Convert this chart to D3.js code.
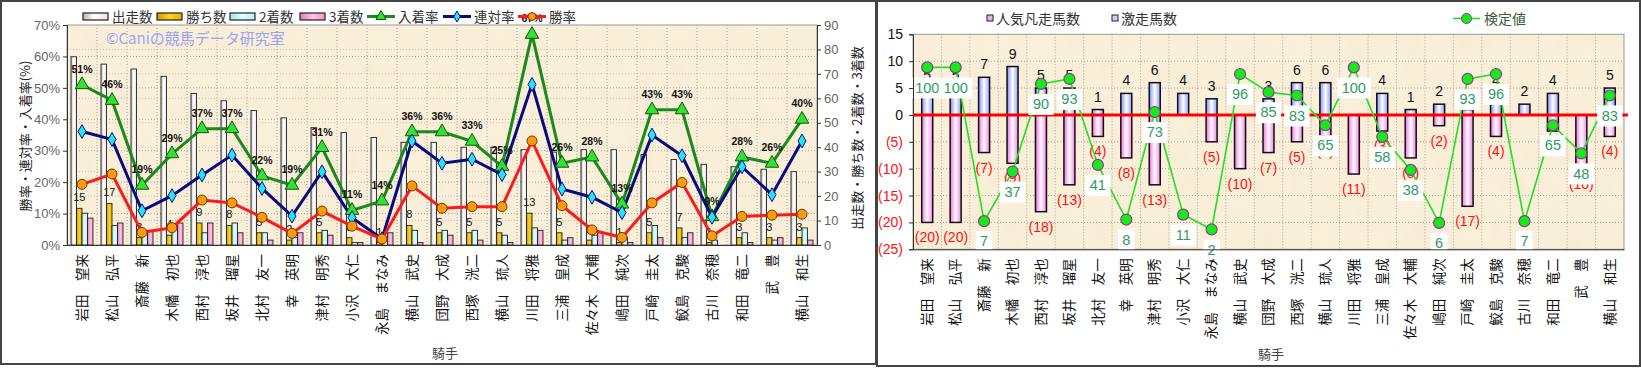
<!DOCTYPE html>
<html>
<head>
<meta charset="utf-8">
<script src="https://cdn.jsdelivr.net/npm/d3@7"></script>
<style>
  body { margin: 0; background: #fff; }
  text { font-family: "Noto Sans CJK JP", "Liberation Sans", sans-serif; }
  .num { font-family: "Liberation Sans", Arial, sans-serif; }
</style>
</head>
<body>
<div id="viz"></div>
<script>
// ---- data ----
const jockeys = ["岩田　望来","松山　弘平","斎藤　新","木幡　初也","西村　淳也","坂井　瑠星","北村　友一","幸　英明","津村　明秀","小沢　大仁","永島　まなみ","横山　武史","団野　大成","西塚　洸二","横山　琉人","川田　将雅","三浦　皇成","佐々木　大輔","嶋田　純次","戸崎　圭太","鮫島　克駿","古川　奈穂","和田　竜二","武　豊","横山　和生"]

const runs    = [77,74,72,69,62,59,55,52,48,46,44,42,42,40,40,39,38,39,39,37,35,33,32,31,30]
const wins    = [15,17,3,4,9,8,5,2,5,3,1,8,5,5,5,13,5,2,1,5,7,1,3,3,3]
const seconds = [13,8,5,7,5,9,5,3,6,1,0,6,6,6,4,7,2,4,3,8,3,2,5,2,7]
const thirds  = [11,9,6,9,9,5,2,5,4,1,5,1,4,2,1,6,3,5,1,3,5,0,1,3,2]

const winRate    = [19.3,22.6,4.0,5.5,14.3,13.4,8.8,3.7,10.8,6.0,1.9,18.8,11.7,12.2,12.2,33.1,12.5,4.8,2.4,13.4,19.9,2.9,9.1,9.5,9.8]
const rentaiRate = [36.1,33.6,10.9,15.7,22.3,28.6,18.0,9.2,23.3,8.7,2.0,33.1,26.0,27.3,22.4,51.1,17.8,15.2,10.3,35.0,28.4,8.8,24.9,16.0,33.1]
const placeRate  = [51,46,19,29,37,37,22,19,31,11,14,36,36,33,25,67,26,28,13,43,43,9,28,26,40]

const pctTicks = [0,10,20,30,40,50,60,70]
const cntTicks = [0,10,20,30,40,50,60,70,80,90]

// right chart
const gekisou = [5,5,7,9,5,5,1,4,6,4,3,0,3,6,6,0,4,1,2,1,4,2,4,0,5]
const bonsou  = [20,20,7,9,18,13,4,8,13,0,5,10,7,5,4,11,3,8,2,17,4,0,3,10,4]
const kentei  = [100,100,7,37,90,93,41,8,73,11,2,96,85,83,65,100,58,38,6,93,96,7,65,48,83]
const diffTicks = [15,10,5,0,-5,-10,-15,-20,-25]

const width = 1641
const height = 368

const svg = d3.select("#viz").append("svg")
    .attr("width", width)
    .attr("height", height)

const defs = svg.append("defs")

function hGrad(id, stops) {
    const g = defs.append("linearGradient").attr("id", id)
        .attr("x1", "0%").attr("x2", "100%").attr("y1", "0%").attr("y2", "0%")
    stops.forEach(s => g.append("stop").attr("offset", s[0]).attr("stop-color", s[1]))
}
hGrad("gRuns", [["0%", "#b8b8b8"], ["45%", "#ffffff"], ["100%", "#e4e4e4"]])
hGrad("gWins", [["0%", "#c89a00"], ["50%", "#ffd21a"], ["100%", "#e0b000"]])
hGrad("g2nd", [["0%", "#9ee6ea"], ["50%", "#e2ffff"], ["100%", "#b6f0f2"]])
hGrad("g3rd", [["0%", "#e07ab8"], ["50%", "#ffc4e6"], ["100%", "#ee96cc"]])
hGrad("gBlue", [["0%", "#7f8cff"], ["50%", "#ffffff"], ["100%", "#8f9cff"]])
hGrad("gPink", [["0%", "#f26ee6"], ["50%", "#ffffff"], ["100%", "#f47ee8"]])

// paper texture
const paper = defs.append("filter").attr("id", "paper")
    .attr("x", 0).attr("y", 0).attr("width", "100%").attr("height", "100%")
paper.append("feTurbulence").attr("type", "fractalNoise")
    .attr("baseFrequency", "0.035").attr("numOctaves", 3).attr("seed", 4)
paper.append("feColorMatrix").attr("type", "matrix")
    .attr("values", "0 0 0 0 0.86  0 0 0 0 0.74  0 0 0 0 0.55  1.3 0 0 0 -0.5")

// ---- frames ----
svg.append("rect").attr("x", 1).attr("y", 1).attr("width", 875).attr("height", 363)
    .attr("fill", "#fff").attr("stroke", "#444").attr("stroke-width", 2)
svg.append("rect").attr("x", 877).attr("y", 1).attr("width", 763).attr("height", 365)
    .attr("fill", "#fff").attr("stroke", "#444").attr("stroke-width", 2)

function plotBg(x0, y0, x1, y1) {
    svg.append("rect").attr("x", x0).attr("y", y0).attr("width", x1 - x0).attr("height", y1 - y0)
        .attr("fill", "#faf0da")
    svg.append("rect").attr("x", x0).attr("y", y0).attr("width", x1 - x0).attr("height", y1 - y0)
        .attr("filter", "url(#paper)").attr("opacity", 0.45)
}

// ========================================
// LEFT CHART
const L = { x0: 67, x1: 817, y0: 25, y1: 245 }
const x = d3.scaleBand().domain(jockeys).range([L.x0, L.x1])
const cx = j => x(j) + x.bandwidth() / 2
const yPct = d3.scaleLinear().domain([0, 70]).range([L.y1, L.y0])
const yCnt = d3.scaleLinear().domain([0, 90]).range([L.y1, L.y0])
const sub = d3.scaleBand().domain(["runs", "wins", "seconds", "thirds"]).range([-11, 11])

plotBg(L.x0, L.y0, L.x1, L.y1)

const gridL = svg.append("g").attr("stroke", "#a8a39a").attr("stroke-dasharray", "1,2").attr("stroke-width", 1)
pctTicks.slice(1, -1).forEach(t => gridL.append("line")
    .attr("x1", L.x0).attr("x2", L.x1).attr("y1", yPct(t)).attr("y2", yPct(t)))
cntTicks.slice(1, -1).forEach(t => gridL.append("line")
    .attr("x1", L.x0).attr("x2", L.x1).attr("y1", yCnt(t)).attr("y2", yCnt(t)).attr("opacity", 0.6))
jockeys.slice(1).forEach(j => gridL.append("line")
    .attr("x1", x(j)).attr("x2", x(j)).attr("y1", L.y0).attr("y2", L.y1))

svg.append("rect").attr("x", L.x0).attr("y", L.y0).attr("width", L.x1 - L.x0).attr("height", L.y1 - L.y0)
    .attr("fill", "none").attr("stroke", "#999")

// watermark
svg.append("text").text("©Caniの競馬データ研究室")
    .attr("x", 106).attr("y", 44).attr("fill", "#9aa4f2").style("font-size", "15px")

// bars
const barSeries = [
    { key: "runs", vals: runs, fill: "url(#gRuns)" },
    { key: "wins", vals: wins, fill: "url(#gWins)" },
    { key: "seconds", vals: seconds, fill: "url(#g2nd)" },
    { key: "thirds", vals: thirds, fill: "url(#g3rd)" }
]
barSeries.forEach(s => {
    svg.append("g").selectAll("rect").data(jockeys).join("rect")
        .attr("x", (j) => cx(j) + sub(s.key))
        .attr("width", sub.bandwidth())
        .attr("y", (j, i) => yCnt(s.vals[i]))
        .attr("height", (j, i) => yCnt(0) - yCnt(s.vals[i]))
        .attr("fill", s.fill)
        .attr("stroke", "#222")
        .attr("stroke-width", 0.9)
})

// win count labels
svg.append("g").selectAll("text").data(jockeys).join("text")
    .attr("class", "num")
    .attr("x", j => cx(j) + sub("wins") + sub.bandwidth() / 2)
    .attr("y", (j, i) => yCnt(wins[i]) - 7)
    .attr("text-anchor", "middle")
    .style("font-size", "11px").attr("fill", "#111")
    .text((j, i) => wins[i])

// lines
function drawLine(vals, color) {
    const line = d3.line().x((d, i) => cx(jockeys[i])).y(d => yPct(d))
    svg.append("path").datum(vals).attr("d", line)
        .attr("fill", "none").attr("stroke", color).attr("stroke-width", 3)
}
drawLine(placeRate, "#1b8a1b")
drawLine(rentaiRate, "#0a0a80")
drawLine(winRate, "#ff1a1a")

const triangle = d3.symbol().type(d3.symbolTriangle).size(80)
const diamond = d3.symbol().type(d3.symbolDiamond).size(55)

svg.append("g").selectAll("path").data(placeRate).join("path")
    .attr("d", triangle)
    .attr("transform", (d, i) => `translate(${cx(jockeys[i])},${yPct(d)})`)
    .attr("fill", "#33e033").attr("stroke", "#0b5a0b").attr("stroke-width", 1)
svg.append("g").selectAll("path").data(rentaiRate).join("path")
    .attr("d", diamond)
    .attr("transform", (d, i) => `translate(${cx(jockeys[i])},${yPct(d)})`)
    .attr("fill", "#1ee8f5").attr("stroke", "#0a0a80").attr("stroke-width", 1)
svg.append("g").selectAll("circle").data(winRate).join("circle")
    .attr("cx", (d, i) => cx(jockeys[i])).attr("cy", d => yPct(d)).attr("r", 5)
    .attr("fill", "#ff9a10").attr("stroke", "#6a3a00").attr("stroke-width", 1)

// place rate labels
svg.append("g").selectAll("text").data(placeRate).join("text")
    .attr("class", "num")
    .attr("x", (d, i) => cx(jockeys[i]))
    .attr("y", d => yPct(d) - 12)
    .attr("text-anchor", "middle")
    .style("font-size", "10.5px").style("font-weight", "bold").attr("fill", "#111")
    .text(d => d + "%")

// axes
const axL = svg.append("g").attr("transform", `translate(${L.x0},0)`)
    .call(d3.axisLeft(yPct).tickValues(pctTicks).tickFormat(d => d + "%").tickSize(4))
axL.selectAll("text").attr("class", "num").style("font-size", "13px").attr("fill", "#666")
axL.selectAll("line, path").attr("stroke", "#333")

const axR = svg.append("g").attr("transform", `translate(${L.x1},0)`)
    .call(d3.axisRight(yCnt).tickValues(cntTicks).tickSize(4))
axR.selectAll("text").attr("class", "num").style("font-size", "13px").attr("fill", "#666")
axR.selectAll("line, path").attr("stroke", "#333")

function catAxis(scale, y0) {
    const ax = svg.append("g").attr("transform", `translate(0,${y0})`)
        .call(d3.axisBottom(scale).tickSize(0))
    ax.select(".domain").attr("stroke", "#333")
    ax.selectAll("text")
        .attr("x", -9).attr("y", 0).attr("dy", "0.35em")
        .attr("transform", "rotate(-90)")
        .style("text-anchor", "end")
        .style("font-size", "13.5px")
        .style("font-family", "'Noto Sans CJK JP', sans-serif")
        .attr("fill", "#111")
}
catAxis(x, L.y1)

svg.append("text").text("勝率・連対率・入着率(%)")
    .attr("transform", "translate(30,136) rotate(-90)")
    .attr("text-anchor", "middle").style("font-size", "13px").attr("fill", "#222")
svg.append("text").text("出走数・勝ち数・2着数・3着数")
    .attr("transform", "translate(862,138) rotate(-90)")
    .attr("text-anchor", "middle").style("font-size", "13px").attr("fill", "#222")
svg.append("text").text("騎手").attr("x", 445).attr("y", 358)
    .attr("text-anchor", "middle").style("font-size", "13px").attr("fill", "#444")

// legend
const legL = svg.append("g").style("font-size", "13.5px")
const boxItems = [
    { label: "出走数", fill: "url(#gRuns)", x: 83 },
    { label: "勝ち数", fill: "url(#gWins)", x: 157 },
    { label: "2着数", fill: "url(#g2nd)", x: 230 },
    { label: "3着数", fill: "url(#g3rd)", x: 300 }
]
boxItems.forEach(b => {
    legL.append("rect").attr("x", b.x).attr("y", 13).attr("width", 25).attr("height", 7)
        .attr("fill", b.fill).attr("stroke", "#222").attr("stroke-width", 1.2)
    legL.append("text").text(b.label).attr("x", b.x + 29).attr("y", 21.5).attr("fill", "#333")
})
const lineItems = [
    { label: "入着率", color: "#1b8a1b", x: 367, mark: "tri" },
    { label: "連対率", color: "#0a0a80", x: 443, mark: "dia" },
    { label: "勝率", color: "#ff1a1a", x: 518, mark: "cir" }
]
lineItems.forEach(b => {
    legL.append("line").attr("x1", b.x).attr("x2", b.x + 28).attr("y1", 16.5).attr("y2", 16.5)
        .attr("stroke", b.color).attr("stroke-width", 3)
    const mx = b.x + 14
    if (b.mark === "tri") legL.append("path").attr("d", d3.symbol().type(d3.symbolTriangle).size(45))
        .attr("transform", `translate(${mx},16.5)`).attr("fill", "#33e033").attr("stroke", "#0b5a0b")
    if (b.mark === "dia") legL.append("path").attr("d", d3.symbol().type(d3.symbolDiamond).size(35))
        .attr("transform", `translate(${mx},16.5)`).attr("fill", "#1ee8f5").attr("stroke", "#0a0a80")
    if (b.mark === "cir") legL.append("circle").attr("cx", mx).attr("cy", 16.5).attr("r", 4)
        .attr("fill", "#ff9a10").attr("stroke", "#6a3a00")
    legL.append("text").text(b.label).attr("x", b.x + 31).attr("y", 21.5).attr("fill", "#333")
})

// ========================================
// RIGHT CHART
const R = { x0: 913, x1: 1624, y0: 34.3, y1: 249.3 }
const x2 = d3.scaleBand().domain(jockeys).range([R.x0, R.x1])
const cx2 = j => x2(j) + x2.bandwidth() / 2
const yDiff = d3.scaleLinear().domain([-25, 15]).range([R.y1, R.y0])
const yKen = d3.scaleLinear().domain([-10, 120]).range([R.y1, R.y0])
const bw = 11

plotBg(R.x0, R.y0, R.x1, R.y1)
const gridR = svg.append("g").attr("stroke", "#a8a39a").attr("stroke-dasharray", "1,2")
diffTicks.slice(1, -1).forEach(t => gridR.append("line")
    .attr("x1", R.x0).attr("x2", R.x1).attr("y1", yDiff(t)).attr("y2", yDiff(t)))
jockeys.slice(1).forEach(j => gridR.append("line")
    .attr("x1", x2(j)).attr("x2", x2(j)).attr("y1", R.y0).attr("y2", R.y1))
svg.append("rect").attr("x", R.x0).attr("y", R.y0).attr("width", R.x1 - R.x0).attr("height", R.y1 - R.y0)
    .attr("fill", "none").attr("stroke", "#999")

// bars
svg.append("g").selectAll("rect").data(jockeys.filter((j, i) => gekisou[i] > 0)).join("rect")
    .attr("x", j => cx2(j) - bw / 2).attr("width", bw)
    .attr("y", j => yDiff(gekisou[jockeys.indexOf(j)]))
    .attr("height", j => yDiff(0) - yDiff(gekisou[jockeys.indexOf(j)]))
    .attr("fill", "url(#gBlue)").attr("stroke", "#111").attr("stroke-width", 1.5)
svg.append("g").selectAll("rect").data(jockeys.filter((j, i) => bonsou[i] > 0)).join("rect")
    .attr("x", j => cx2(j) - bw / 2).attr("width", bw)
    .attr("y", yDiff(0))
    .attr("height", j => yDiff(-bonsou[jockeys.indexOf(j)]) - yDiff(0))
    .attr("fill", "url(#gPink)").attr("stroke", "#111").attr("stroke-width", 1.5)

// zero line
svg.append("line").attr("x1", R.x0).attr("x2", R.x1 + 4).attr("y1", yDiff(0)).attr("y2", yDiff(0))
    .attr("stroke", "#ff0000").attr("stroke-width", 3)

// bar labels
svg.append("g").selectAll("text").data(jockeys.filter((j, i) => gekisou[i] > 0)).join("text")
    .attr("class", "num")
    .attr("x", j => cx2(j)).attr("y", j => yDiff(gekisou[jockeys.indexOf(j)]) - 8)
    .attr("text-anchor", "middle").style("font-size", "14px").attr("fill", "#111")
    .text(j => gekisou[jockeys.indexOf(j)])
svg.append("g").selectAll("text").data(jockeys.filter((j, i) => bonsou[i] > 0)).join("text")
    .attr("class", "num")
    .attr("x", j => cx2(j)).attr("y", j => yDiff(-bonsou[jockeys.indexOf(j)]) + 20)
    .attr("text-anchor", "middle").style("font-size", "14px").attr("fill", "#ff1010")
    .text(j => "(" + bonsou[jockeys.indexOf(j)] + ")")

// kentei line
const kline = d3.line().x((d, i) => cx2(jockeys[i])).y(d => yKen(d))
svg.append("path").datum(kentei).attr("d", kline)
    .attr("fill", "none").attr("stroke", "#22e022").attr("stroke-width", 1.6)

const kl = svg.append("g").selectAll("g").data(kentei).join("g")
    .attr("transform", (d, i) => `translate(${cx2(jockeys[i])},${yKen(d) + 20})`)
kl.append("rect")
    .attr("x", d => -(String(d).length * 4.3 + 4)).attr("y", -10)
    .attr("width", d => String(d).length * 8.6 + 8).attr("height", 21)
    .attr("fill", "#fff")
kl.append("text").attr("class", "num").attr("text-anchor", "middle").attr("dy", "0.36em")
    .style("font-size", "14.5px").attr("fill", "#2f9a63").text(d => d)

svg.append("g").selectAll("circle").data(kentei).join("circle")
    .attr("cx", (d, i) => cx2(jockeys[i])).attr("cy", d => yKen(d)).attr("r", 5.5)
    .attr("fill", "#14ec14").attr("stroke", "#8a3a9a").attr("stroke-width", 1.2)

// axes
const axD = svg.append("g").attr("transform", `translate(${R.x0},0)`)
    .call(d3.axisLeft(yDiff).tickValues(diffTicks).tickSize(4)
        .tickFormat(d => d < 0 ? "(" + (-d) + ")" : d))
axD.selectAll("text").attr("class", "num").style("font-size", "14px")
    .attr("fill", d => d < 0 ? "#ff1010" : "#111").attr("x", -10)
axD.selectAll("line, path").attr("stroke", "#333")
catAxis(x2, R.y1)

svg.append("text").text("騎手").attr("x", 1271).attr("y", 359)
    .attr("text-anchor", "middle").style("font-size", "13px").attr("fill", "#444")

// legend
const legR = svg.append("g").style("font-size", "14px")
legR.append("rect").attr("x", 987).attr("y", 15).attr("width", 6).attr("height", 6)
    .attr("fill", "#f7a8ec").attr("stroke", "#222")
legR.append("text").text("人気凡走馬数").attr("x", 996).attr("y", 23.5).attr("fill", "#333")
legR.append("rect").attr("x", 1112).attr("y", 15).attr("width", 6).attr("height", 6)
    .attr("fill", "#c8d0ff").attr("stroke", "#222")
legR.append("text").text("激走馬数").attr("x", 1121).attr("y", 23.5).attr("fill", "#333")
legR.append("line").attr("x1", 1453).attr("x2", 1480).attr("y1", 18.5).attr("y2", 18.5)
    .attr("stroke", "#22e022").attr("stroke-width", 1.6)
legR.append("circle").attr("cx", 1466.5).attr("cy", 18.5).attr("r", 5)
    .attr("fill", "#14ec14").attr("stroke", "#8a3a9a")
legR.append("text").text("検定値").attr("x", 1484).attr("y", 23.5).attr("fill", "#3c5a3c")
</script>
</body>
</html>
